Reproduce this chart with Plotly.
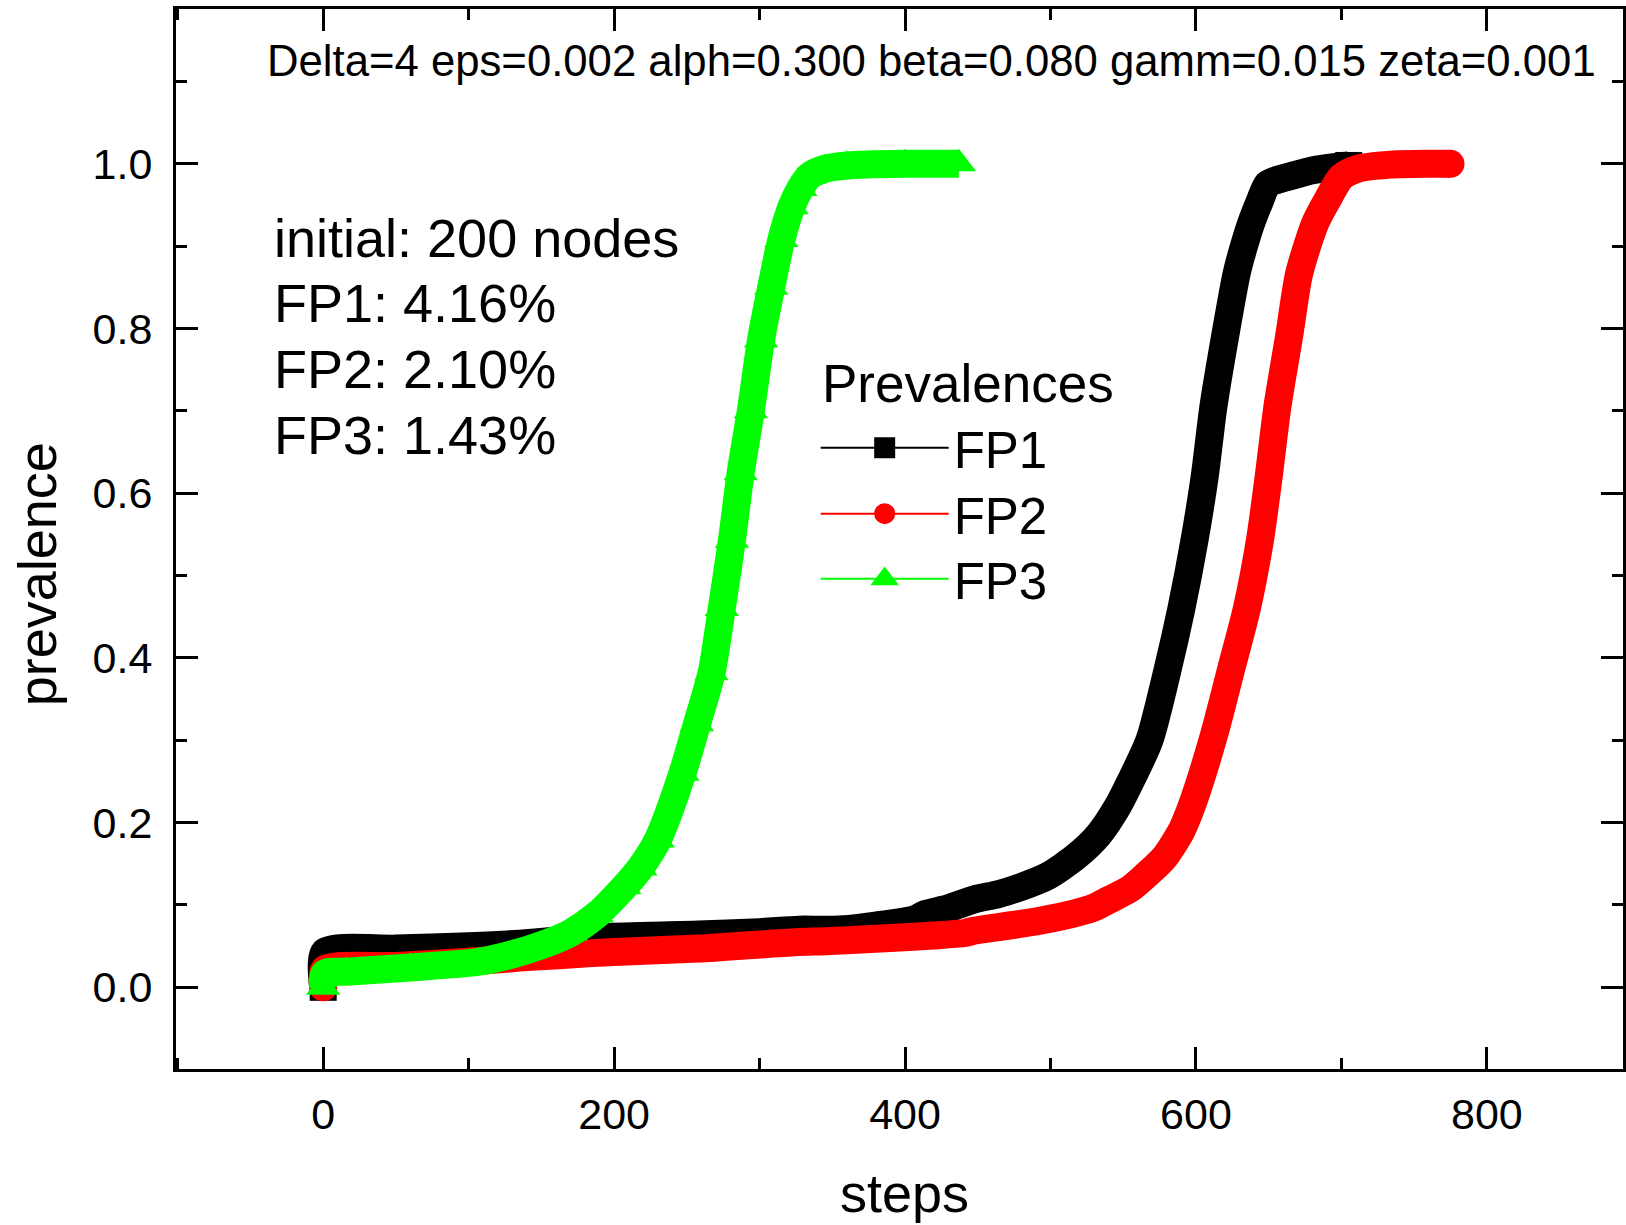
import plotly.graph_objects as go

# ---------------- data ----------------
series_names = ["FP1", "FP2", "FP3"]

steps_fp1 = [0, 1, 50, 100, 135, 162, 193, 258, 300, 327, 345, 361, 380, 407, 414, 430,
             448, 464, 480, 498, 517, 533, 546, 555, 568, 580, 590, 599, 606, 612, 620,
             628, 633, 638, 644, 649, 655, 665, 680, 695, 705]
prev_fp1 = [0.0, 0.043, 0.047, 0.050, 0.053, 0.057, 0.061, 0.064, 0.067, 0.070, 0.070,
            0.071, 0.075, 0.083, 0.089, 0.096, 0.107, 0.113, 0.122, 0.135, 0.158, 0.185,
            0.219, 0.25, 0.30, 0.382, 0.46, 0.543, 0.62, 0.705, 0.79, 0.867, 0.90, 0.928,
            0.955, 0.975, 0.980, 0.985, 0.992, 0.996, 0.998]

steps_fp2 = [0, 1, 50, 100, 135, 162, 200, 258, 300, 327, 345, 380, 420, 441, 448, 464,
             490, 510, 530, 540, 555, 565, 578, 590, 596, 601, 613, 624, 635, 644, 650,
             656, 664, 671, 682, 690, 700, 711, 734, 760, 775]
prev_fp2 = [0.0, 0.022, 0.026, 0.031, 0.036, 0.039, 0.043, 0.047, 0.052, 0.055, 0.056,
            0.059, 0.063, 0.066, 0.069, 0.073, 0.080, 0.087, 0.097, 0.106, 0.120, 0.135,
            0.157, 0.190, 0.215, 0.240, 0.310, 0.385, 0.460, 0.543, 0.620, 0.705, 0.790,
            0.867, 0.928, 0.955, 0.984, 0.994, 0.999, 1.0, 1.0]

steps_fp3 = [0, 1, 16, 60, 107, 130, 153, 170, 188, 207, 218, 230, 247, 257, 267, 274,
             281, 287, 294, 301, 308, 315, 322, 328, 334, 345, 360, 400, 437]
prev_fp3 = [0.0, 0.017, 0.019, 0.024, 0.031, 0.040, 0.053, 0.066, 0.088, 0.122, 0.145,
            0.179, 0.260, 0.320, 0.382, 0.460, 0.543, 0.625, 0.700, 0.786, 0.850, 0.908,
            0.948, 0.970, 0.985, 0.994, 0.998, 1.0, 1.0]

x_ticks = [0, 200, 400, 600, 800]
y_ticks = [0.0, 0.2, 0.4, 0.6, 0.8, 1.0]
y_tick_labels = ["0.0", "0.2", "0.4", "0.6", "0.8", "1.0"]

x_title = "steps"
y_title = "prevalence"
param_text = "Delta=4 eps=0.002 alph=0.300 beta=0.080 gamm=0.015 zeta=0.001"
info_lines = ["initial: 200 nodes", "FP1: 4.16%", "FP2: 2.10%", "FP3: 1.43%"]
legend_title = "Prevalences"

# ---------------- styling ----------------
W, H = 1626, 1225
ML, MR, MT, MB = 176, 0, 9, 156
PW, PH = W - ML - MR, H - MT - MB
FONT = "Liberation Sans, Arial, sans-serif"

colors = ["#000000", "#ff0000", "#00ff00"]
symbols = ["square", "circle", "triangle-up"]
end_marker_sizes = [27, 28, 30]
inner_marker_sizes = [20, 22, 30]
band_width = 28

x_range = [-101.2, 893.6]
y_range = [-0.0992, 1.188]


def px_to_paper_x(px):
    return (px - ML) / PW


def px_to_paper_y(py):
    return (H - MB - py) / PH


fig = go.Figure()
all_x = [steps_fp1, steps_fp2, steps_fp3]
all_y = [prev_fp1, prev_fp2, prev_fp3]

for name, xs, ys, c, s, ms_end, ms_in in zip(series_names, all_x, all_y, colors, symbols,
                                             end_marker_sizes, inner_marker_sizes):
    sizes = [ms_end] + [ms_in] * (len(xs) - 2) + [ms_end]
    fig.add_trace(go.Scatter(
        x=xs, y=ys, mode="lines+markers", name=name, showlegend=False,
        line=dict(color=c, width=band_width, shape="spline", smoothing=0.7),
        marker=dict(symbol=s, size=sizes, color=c, opacity=1, line=dict(width=0)),
        hoverinfo="skip",
    ))

# legend entries (thin line + marker), one small legend per entry
legend_ids = ["legend", "legend2", "legend3"]
legend_rows_px = [448, 514, 579]
for name, c, s, lid in zip(series_names, colors, symbols, legend_ids):
    fig.add_trace(go.Scatter(
        x=[None], y=[None], mode="lines+markers", name=name, showlegend=True,
        legend=lid,
        line=dict(color=c, width=2),
        marker=dict(symbol=s, size=16, color=c, opacity=1, line=dict(color=c, width=5)),
    ))

axis_common = dict(
    showline=True, linecolor="black", linewidth=3, mirror="ticks",
    ticks="inside", ticklen=22, tickwidth=3, tickcolor="black",
    showgrid=False, zeroline=False,
    tickfont=dict(family=FONT, size=43, color="black"),
)

fig.update_xaxes(
    range=x_range, tickmode="array", tickvals=x_ticks,
    ticktext=[str(v) for v in x_ticks],
    minor=dict(ticks="inside", ticklen=11, tickwidth=3, tickcolor="black", dtick=100, tick0=0, showgrid=False),
    ticklabelstandoff=5,
    **axis_common,
)
fig.update_yaxes(
    range=y_range, tickmode="array", tickvals=y_ticks, ticktext=y_tick_labels,
    minor=dict(ticks="inside", ticklen=11, tickwidth=3, tickcolor="black", dtick=0.1, tick0=0, showgrid=False),
    ticklabelstandoff=12,
    **axis_common,
)

annotations = [
    dict(text=param_text, xref="paper", yref="paper",
         x=px_to_paper_x(933), y=px_to_paper_y(60), xanchor="center", yanchor="middle",
         showarrow=False, font=dict(family=FONT, size=43.7, color="black")),
    dict(text=x_title, xref="paper", yref="paper",
         x=px_to_paper_x(906), y=px_to_paper_y(1193), xanchor="center", yanchor="middle",
         showarrow=False, font=dict(family=FONT, size=54, color="black")),
    dict(text=y_title, xref="paper", yref="paper", textangle=-90,
         x=px_to_paper_x(37), y=px_to_paper_y(574), xanchor="center", yanchor="middle",
         showarrow=False, font=dict(family=FONT, size=54, color="black")),
    dict(text=legend_title, xref="paper", yref="paper",
         x=px_to_paper_x(821), y=px_to_paper_y(383), xanchor="left", yanchor="middle",
         showarrow=False, font=dict(family=FONT, size=53, color="black")),
]
for i, line in enumerate(info_lines):
    annotations.append(dict(
        text=line, xref="paper", yref="paper",
        x=px_to_paper_x(272), y=px_to_paper_y(238 + 65.5 * i), xanchor="left", yanchor="middle",
        showarrow=False, font=dict(family=FONT, size=54, color="black"),
    ))

legend_style = dict(
    xanchor="left", yanchor="middle",
    bgcolor="rgba(0,0,0,0)", borderwidth=0,
    font=dict(family=FONT, size=51, color="black"),
    itemwidth=128, tracegroupgap=0,
)
layout_legends = {}
for lid, ypx in zip(legend_ids, legend_rows_px):
    layout_legends[lid] = dict(x=px_to_paper_x(817), y=px_to_paper_y(ypx), **legend_style)

fig.update_layout(
    width=W, height=H,
    margin=dict(l=ML, r=MR, t=MT, b=MB, pad=0),
    paper_bgcolor="white", plot_bgcolor="white",
    font=dict(family=FONT, color="black"),
    annotations=annotations,
    **layout_legends,
)

fig.write_html("out.html")
